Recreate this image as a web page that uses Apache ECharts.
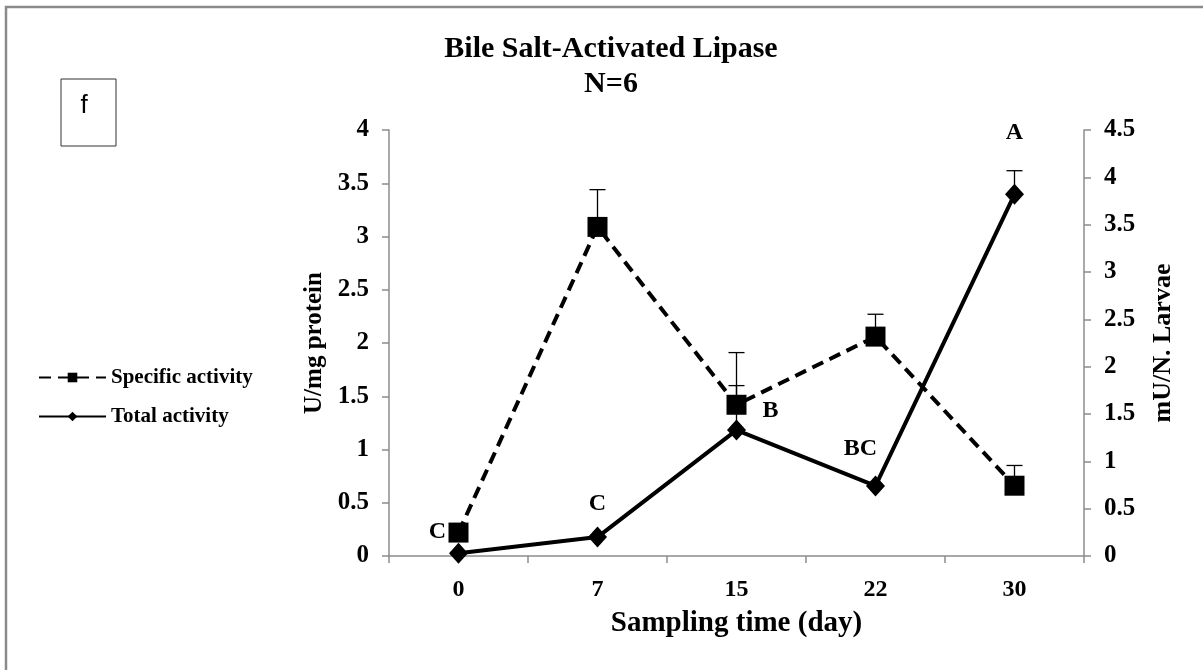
<!DOCTYPE html>
<html>
<head>
<meta charset="utf-8">
<script src="https://cdn.jsdelivr.net/npm/echarts@6/dist/echarts.min.js"></script>
<style>
html,body{margin:0;padding:0;background:#fff;}
#chart{width:1203px;height:670px;}
</style>
</head>
<body>
<div id="chart"></div>
<script>
// ---- data ----
const days = ['0', '7', '15', '22', '30'];
const specificActivity = [0.22, 3.09, 1.42, 2.06, 0.66];   // U/mg protein (left axis)
const specificSE = [null, 0.35, 0.49, 0.21, 0.19];
const totalActivity = [0.03, 0.20, 1.33, 0.74, 3.82];      // mU/N. Larvae (right axis)
const totalSE = [null, null, 0.47, null, 0.25];
const letters = ['C', 'C', 'B', 'BC', 'A'];
const leftTicks = { min: 0, max: 4, interval: 0.5 };
const rightTicks = { min: 0, max: 4.5, interval: 0.5 };

const serif = "'Liberation Serif', 'Times New Roman', serif";
const axisGray = '#8c8c8c';
const letterOffsets = [[-21, -21], [0, -33], [34, -19], [-15, -37], [0, -62]];

function errData(vals, se) {
  const out = [];
  vals.forEach((v, i) => { if (se[i] != null) out.push([i, v, v + se[i]]); });
  return out;
}
function errRender(params, api) {
  const x = api.value(0), v = api.value(1), hi = api.value(2);
  const p0 = api.coord([x, v]);
  const p1 = api.coord([x, hi]);
  const st = { stroke: '#000', lineWidth: 1.3 };
  return {
    type: 'group',
    children: [
      { type: 'line', shape: { x1: p0[0], y1: p0[1], x2: p1[0], y2: p1[1] }, style: st },
      { type: 'line', shape: { x1: p1[0] - 8, y1: p1[1], x2: p1[0] + 8, y2: p1[1] }, style: st }
    ]
  };
}

const chart = echarts.init(document.getElementById('chart'), null, { renderer: 'canvas' });
chart.setOption({
  backgroundColor: '#fff',
  animation: false,
  title: {
    text: 'Bile Salt-Activated Lipase\nN=6',
    left: 606,
    top: 27,
    textAlign: 'center',
    textStyle: { fontFamily: serif, fontWeight: 'bold', fontSize: 30, lineHeight: 35, color: '#000' }
  },
  legend: {
    orient: 'vertical',
    left: 33,
    top: 362,
    itemWidth: 67,
    itemHeight: 12,
    itemGap: 18,
    data: ['Specific activity', 'Total activity'],
    textStyle: { fontFamily: serif, fontWeight: 'bold', fontSize: 21, color: '#000' }
  },
  grid: { left: 389, right: 119, top: 130, bottom: 114, containLabel: false },
  xAxis: {
    type: 'category',
    data: days,
    boundaryGap: true,
    name: 'Sampling time (day)',
    nameLocation: 'middle',
    nameGap: 53,
    nameTextStyle: { fontFamily: serif, fontWeight: 'bold', fontSize: 29, color: '#000' },
    axisLine: { lineStyle: { color: axisGray, width: 1.5 } },
    axisTick: { show: true, length: 7, alignWithLabel: false, lineStyle: { color: axisGray, width: 1.5 } },
    axisLabel: { margin: 22, fontFamily: serif, fontWeight: 'bold', fontSize: 24, color: '#000' },
    splitLine: { show: false }
  },
  yAxis: [
    {
      type: 'value',
      position: 'left',
      min: leftTicks.min, max: leftTicks.max, interval: leftTicks.interval,
      name: 'U/mg protein',
      nameLocation: 'middle',
      nameRotate: 90,
      nameGap: 62,
      nameTextStyle: { fontFamily: serif, fontWeight: 'bold', fontSize: 25, color: '#000' },
      axisLine: { show: true, lineStyle: { color: axisGray, width: 1.5 } },
      axisTick: { show: true, length: 7, lineStyle: { color: axisGray, width: 1.5 } },
      axisLabel: { margin: 20, fontFamily: serif, fontWeight: 'bold', fontSize: 25, color: '#000' },
      splitLine: { show: false }
    },
    {
      type: 'value',
      position: 'right',
      min: rightTicks.min, max: rightTicks.max, interval: rightTicks.interval,
      name: 'mU/N. Larvae',
      nameLocation: 'middle',
      nameRotate: 90,
      nameGap: 66,
      nameTextStyle: { fontFamily: serif, fontWeight: 'bold', fontSize: 26, color: '#000' },
      axisLine: { show: true, lineStyle: { color: axisGray, width: 1.5 } },
      axisTick: { show: true, length: 7, lineStyle: { color: axisGray, width: 1.5 } },
      axisLabel: { margin: 20, fontFamily: serif, fontWeight: 'bold', fontSize: 25, color: '#000' },
      splitLine: { show: false }
    }
  ],
  series: [
    {
      name: 'Specific activity',
      type: 'line',
      yAxisIndex: 0,
      data: specificActivity,
      symbol: 'rect',
      symbolSize: 20,
      z: 3,
      itemStyle: { color: '#000' },
      lineStyle: { color: '#000', width: 4, type: [12, 7] }
    },
    {
      name: 'Total activity',
      type: 'line',
      yAxisIndex: 1,
      data: totalActivity.map((v, i) => ({
        value: v,
        label: {
          show: true,
          position: 'inside',
          offset: letterOffsets[i],
          formatter: letters[i],
          fontFamily: serif, fontWeight: 'bold', fontSize: 24, color: '#000'
        }
      })),
      symbol: 'diamond',
      symbolSize: [19, 21],
      z: 4,
      itemStyle: { color: '#000' },
      lineStyle: { color: '#000', width: 4 }
    },
    {
      type: 'custom',
      yAxisIndex: 0,
      data: errData(specificActivity, specificSE),
      renderItem: errRender,
      z: 1,
      silent: true
    },
    {
      type: 'custom',
      yAxisIndex: 1,
      data: errData(totalActivity, totalSE),
      renderItem: errRender,
      z: 1,
      silent: true
    }
  ],
  graphic: [
    {
      type: 'rect',
      shape: { x: 6, y: 7, width: 1300, height: 800 },
      style: { fill: 'none', stroke: '#8a8a8a', lineWidth: 2.5 },
      silent: true
    },
    {
      type: 'rect',
      shape: { x: 61, y: 79, width: 55, height: 67 },
      style: { fill: '#fff', stroke: '#333', lineWidth: 1 },
      silent: true
    },
    {
      type: 'text',
      x: 84, y: 106,
      style: { text: 'f', fontFamily: "'Liberation Sans', Arial, sans-serif", fontSize: 26, fill: '#000', align: 'center', verticalAlign: 'middle' },
      silent: true
    }
  ]
});
</script>
</body>
</html>
